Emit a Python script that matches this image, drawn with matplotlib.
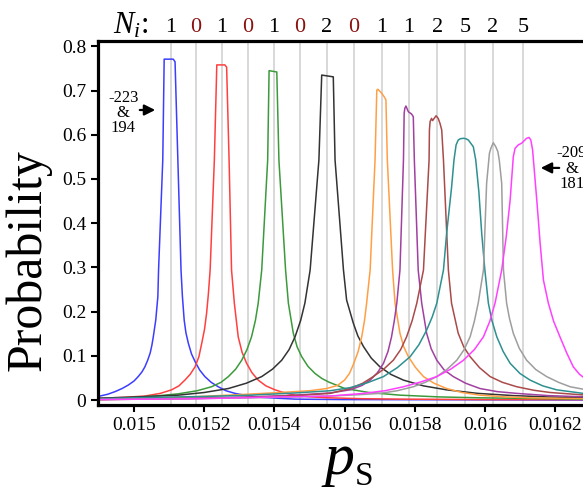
import matplotlib
matplotlib.use('Agg')
import matplotlib.pyplot as plt
from matplotlib.transforms import blended_transform_factory

plt.rcParams['font.family'] = 'Liberation Serif'
plt.rcParams['mathtext.fontset'] = 'custom'
plt.rcParams['mathtext.rm'] = 'Liberation Serif'
plt.rcParams['mathtext.it'] = 'Liberation Serif:italic'

# p_s positions of the reference lines and their counts N_i
grid_ps = [0.015105, 0.015177, 0.015251, 0.015325, 0.015399, 0.015473, 0.015550,
           0.015627, 0.015707, 0.015784, 0.015864, 0.015943, 0.016023, 0.016109]
n_counts = ['1', '0', '1', '0', '1', '0', '2', '0', '1', '1', '2', '5', '2', '5']

# probability curves
blue_ps = [0.014897, 0.014903, 0.014925, 0.014946, 0.014966, 0.014984, 0.015000, 0.015012,
           0.015023, 0.015031, 0.015039, 0.015046, 0.015051, 0.015055, 0.015062, 0.015068,
           0.015070, 0.015082, 0.015086, 0.015112, 0.015117, 0.015125, 0.015134, 0.015138,
           0.015143, 0.015148, 0.015155, 0.015164, 0.015174, 0.015187, 0.015202, 0.015220,
           0.015240, 0.015262, 0.015288, 0.015322, 0.015364, 0.015410, 0.015459, 0.015601,
           0.016290]
blue_prob = [0.008, 0.009, 0.013, 0.019, 0.026, 0.034, 0.043, 0.053, 0.064, 0.075, 0.090,
             0.106, 0.124, 0.143, 0.181, 0.234, 0.294, 0.543, 0.771, 0.771, 0.765, 0.543,
             0.294, 0.234, 0.181, 0.152, 0.128, 0.104, 0.087, 0.068, 0.053, 0.040, 0.030,
             0.021, 0.015, 0.010, 0.006, 0.004, 0.002, 0.001, 0.000]

red_ps = [0.014897, 0.014970, 0.015031, 0.015075, 0.015107, 0.015128, 0.015145, 0.015160,
          0.015174, 0.015185, 0.015193, 0.015201, 0.015207, 0.015212, 0.015217, 0.015229,
          0.015236, 0.015259, 0.015264, 0.015271, 0.015278, 0.015286, 0.015297, 0.015308,
          0.015321, 0.015336, 0.015354, 0.015376, 0.015402, 0.015430, 0.015459, 0.015505,
          0.015554, 0.015650, 0.015758, 0.016000, 0.016290]
red_prob = [0.004, 0.006, 0.009, 0.015, 0.023, 0.032, 0.045, 0.058, 0.075, 0.098, 0.128,
            0.160, 0.197, 0.240, 0.294, 0.543, 0.758, 0.758, 0.753, 0.543, 0.294, 0.219,
            0.143, 0.108, 0.083, 0.062, 0.045, 0.032, 0.023, 0.016, 0.011, 0.007, 0.005,
            0.003, 0.002, 0.001, 0.001]

green_ps = [0.014897, 0.014984, 0.015060, 0.015126, 0.015180, 0.015221, 0.015248, 0.015269,
            0.015290, 0.015307, 0.015322, 0.015335, 0.015346, 0.015354, 0.015364, 0.015381,
            0.015385, 0.015407, 0.015413, 0.015432, 0.015440, 0.015454, 0.015465, 0.015478,
            0.015496, 0.015516, 0.015535, 0.015554, 0.015601, 0.015670, 0.015758, 0.015870,
            0.015986, 0.016290]
green_prob = [0.002, 0.005, 0.009, 0.014, 0.021, 0.030, 0.040, 0.053, 0.070, 0.090, 0.114,
              0.143, 0.180, 0.219, 0.294, 0.543, 0.745, 0.742, 0.543, 0.294, 0.219, 0.151,
              0.120, 0.098, 0.076, 0.060, 0.049, 0.041, 0.026, 0.017, 0.011, 0.007, 0.005,
              0.002]

black_ps = [0.014897, 0.015010, 0.015126, 0.015200, 0.015269, 0.015320, 0.015364, 0.015395,
            0.015421, 0.015442, 0.015459, 0.015475, 0.015487, 0.015502, 0.015527, 0.015535,
            0.015568, 0.015573, 0.015597, 0.015606, 0.015625, 0.015638, 0.015654, 0.015676,
            0.015701, 0.015732, 0.015768, 0.015825, 0.015891, 0.015980, 0.016081, 0.016180,
            0.016290]
black_prob = [0.004, 0.007, 0.011, 0.017, 0.026, 0.038, 0.053, 0.070, 0.090, 0.114, 0.143,
              0.180, 0.219, 0.294, 0.543, 0.735, 0.731, 0.543, 0.294, 0.226, 0.174, 0.145,
              0.121, 0.095, 0.075, 0.058, 0.045, 0.032, 0.023, 0.015, 0.010, 0.007, 0.005]

orange_ps = [0.014897, 0.015050, 0.015188, 0.015320, 0.015416, 0.015500, 0.015549, 0.015580,
             0.015600, 0.015614, 0.015625, 0.015639, 0.015649, 0.015657, 0.015663, 0.015673,
             0.015687, 0.015692, 0.015695, 0.015706, 0.015713, 0.015718, 0.015722, 0.015737,
             0.015744, 0.015758, 0.015769, 0.015782, 0.015802, 0.015825, 0.015855, 0.015891,
             0.015935, 0.015986, 0.016060, 0.016129, 0.016290]
orange_prob = [0.001, 0.004, 0.008, 0.013, 0.017, 0.021, 0.026, 0.033, 0.045, 0.060, 0.080,
               0.110, 0.143, 0.180, 0.219, 0.294, 0.543, 0.701, 0.703, 0.694, 0.686, 0.679,
               0.543, 0.294, 0.219, 0.151, 0.120, 0.098, 0.074, 0.053, 0.038, 0.026, 0.017,
               0.011, 0.007, 0.005, 0.003]

purple_ps = [0.014897, 0.015150, 0.015331, 0.015460, 0.015559, 0.015616, 0.015650, 0.015673,
             0.015694, 0.015711, 0.015724, 0.015734, 0.015742, 0.015749, 0.015758, 0.015768,
             0.015770, 0.015772, 0.015775, 0.015782, 0.015791, 0.015796, 0.015799, 0.015810,
             0.015820, 0.015834, 0.015847, 0.015863, 0.015884, 0.015910, 0.015945, 0.015986,
             0.016035, 0.016091, 0.016180, 0.016290]
purple_prob = [0.001, 0.004, 0.007, 0.011, 0.016, 0.023, 0.033, 0.045, 0.062, 0.083, 0.110,
               0.143, 0.180, 0.219, 0.294, 0.543, 0.649, 0.660, 0.665, 0.652, 0.647, 0.641,
               0.543, 0.294, 0.219, 0.151, 0.116, 0.090, 0.068, 0.053, 0.038, 0.026, 0.019,
               0.015, 0.010, 0.007]

brown_ps = [0.014897, 0.015150, 0.015331, 0.015460, 0.015559, 0.015616, 0.015652, 0.015682,
            0.015712, 0.015739, 0.015760, 0.015777, 0.015793, 0.015806, 0.015825, 0.015841,
            0.015842, 0.015844, 0.015848, 0.015851, 0.015861, 0.015867, 0.015872, 0.015877,
            0.015882, 0.015896, 0.015905, 0.015924, 0.015940, 0.015958, 0.015985, 0.016015,
            0.016050, 0.016091, 0.016140, 0.016186, 0.016290]
brown_prob = [0.001, 0.003, 0.006, 0.010, 0.015, 0.026, 0.038, 0.053, 0.070, 0.090, 0.114,
              0.143, 0.180, 0.219, 0.294, 0.543, 0.611, 0.630, 0.637, 0.632, 0.643, 0.637,
              0.626, 0.611, 0.543, 0.294, 0.219, 0.151, 0.120, 0.098, 0.073, 0.053, 0.040,
              0.030, 0.022, 0.017, 0.011]

teal_ps = [0.014897, 0.015046, 0.015200, 0.015331, 0.015460, 0.015559, 0.015616, 0.015665,
           0.015711, 0.015750, 0.015787, 0.015812, 0.015834, 0.015850, 0.015863, 0.015882,
           0.015891, 0.015905, 0.015912, 0.015918, 0.015924, 0.015930, 0.015939, 0.015946,
           0.015953, 0.015967, 0.015974, 0.015983, 0.015991, 0.016000, 0.016010, 0.016020,
           0.016034, 0.016052, 0.016072, 0.016100, 0.016129, 0.016165, 0.016205, 0.016290]
teal_prob = [0.003, 0.006, 0.008, 0.011, 0.016, 0.021, 0.028, 0.039, 0.053, 0.073, 0.098,
             0.125, 0.158, 0.188, 0.219, 0.294, 0.377, 0.480, 0.543, 0.577, 0.588, 0.591,
             0.592, 0.591, 0.588, 0.573, 0.543, 0.470, 0.377, 0.294, 0.219, 0.180, 0.143,
             0.110, 0.083, 0.060, 0.045, 0.032, 0.023, 0.014]

gray_ps = [0.014897, 0.015150, 0.015331, 0.015460, 0.015559, 0.015640, 0.015701, 0.015750,
           0.015796, 0.015830, 0.015863, 0.015893, 0.015920, 0.015940, 0.015958, 0.015970,
           0.015981, 0.015996, 0.016005, 0.016013, 0.016017, 0.016024, 0.016031, 0.016037,
           0.016041, 0.016048, 0.016053, 0.016062, 0.016070, 0.016081, 0.016098, 0.016119,
           0.016145, 0.016176, 0.016210, 0.016243, 0.016290]
gray_prob = [0.001, 0.003, 0.005, 0.007, 0.009, 0.012, 0.015, 0.021, 0.030, 0.040, 0.053,
             0.070, 0.090, 0.113, 0.143, 0.178, 0.219, 0.294, 0.490, 0.558, 0.569, 0.582,
             0.573, 0.562, 0.543, 0.490, 0.294, 0.219, 0.185, 0.151, 0.117, 0.090, 0.069,
             0.053, 0.040, 0.030, 0.023]

magenta_ps = [0.014897, 0.015188, 0.015416, 0.015559, 0.015654, 0.015715, 0.015768, 0.015818,
              0.015863, 0.015903, 0.015939, 0.015970, 0.015996, 0.016014, 0.016029, 0.016048,
              0.016061, 0.016072, 0.016081, 0.016086, 0.016095, 0.016105, 0.016119, 0.016126,
              0.016131, 0.016136, 0.016148, 0.016158, 0.016167, 0.016181, 0.016196, 0.016214,
              0.016233, 0.016252, 0.016270, 0.016290]
magenta_prob = [0.001, 0.003, 0.007, 0.009, 0.015, 0.021, 0.030, 0.041, 0.053, 0.070, 0.090,
                0.114, 0.143, 0.178, 0.219, 0.294, 0.370, 0.452, 0.550, 0.569, 0.577, 0.581,
                0.592, 0.594, 0.588, 0.566, 0.452, 0.350, 0.271, 0.219, 0.178, 0.143, 0.107,
                0.075, 0.058, 0.046]

curves = [
    (blue_ps, blue_prob, '#3d3dff'),
    (red_ps, red_prob, '#ff4040'),
    (green_ps, green_prob, '#3c9a3c'),
    (black_ps, black_prob, '#333333'),
    (orange_ps, orange_prob, '#ff9f45'),
    (purple_ps, purple_prob, '#a040a0'),
    (brown_ps, brown_prob, '#aa4a4a'),
    (teal_ps, teal_prob, '#2e9090'),
    (gray_ps, gray_prob, '#9e9e9e'),
    (magenta_ps, magenta_prob, '#ff40ff'),
]

fig = plt.figure(figsize=(5.83, 4.92), dpi=100)
ax = fig.add_axes([0.1681, 0.1768, 0.8319, 0.7398])

for g in grid_ps:
    ax.axvline(g, color='#d2d2d2', lw=1.2, zorder=0)

for ps, prob, c in curves:
    ax.plot(ps, prob, color=c, lw=1.1, solid_joinstyle='round')

ax.set_xlim(0.0148974, 0.0162797)
ax.set_ylim(-0.0113, 0.812)

xt = [0.015, 0.0152, 0.0154, 0.0156, 0.0158, 0.016, 0.0162]
ax.set_xticks(xt)
ax.set_xticklabels(['0.015', '0.0152', '0.0154', '0.0156', '0.0158', '0.016', '0.0162'])
yt = [0, 0.1, 0.2, 0.3, 0.4, 0.5, 0.6, 0.7, 0.8]
ax.set_yticks(yt)
ax.set_yticklabels(['0', '0.1', '0.2', '0.3', '0.4', '0.5', '0.6', '0.7', '0.8'])
ax.tick_params(labelsize=14, width=1.5, length=5, direction='out')

for s in ['left', 'bottom', 'top']:
    ax.spines[s].set_linewidth(2.3)
ax.spines['right'].set_visible(False)

ax.set_ylabel('Probability', fontsize=36)
ax.yaxis.set_label_coords((52 - 98) / 485, (405 - 260) / 364)

# x label: italic p with upright subscript S
fig.text(339 / 583, (492 - 474) / 492, 'p', fontsize=43, style='italic',
         ha='center', va='baseline')
fig.text(355 / 583, (492 - 485) / 492, 'S', fontsize=24, ha='left', va='baseline')

# N_i counts above each line
fig.text(113 / 583, (492 - 33) / 492, r'$N_i$:', fontsize=22, ha='left', va='baseline')
trans = blended_transform_factory(ax.transData, fig.transFigure)
for g, n in zip(grid_ps, n_counts):
    ax.text(g, (492 - 32) / 492, n, transform=trans, ha='center', va='baseline',
            fontsize=16, color='#8b1010' if n == '0' else 'black', clip_on=False)

# arrows marking the two outer peaks
ax.annotate('', xy=(0.0150684, 0.656), xytext=(0.0150086, 0.656),
            arrowprops=dict(arrowstyle='-|>', lw=1.6, color='black', mutation_scale=16))
ax.text(0.014969, 0.649, '-223\n&\n194', fontsize=12, ha='center', va='center',
        linespacing=0.95)
ax.annotate('', xy=(0.0161514, 0.525), xytext=(0.0162198, 0.525),
            arrowprops=dict(arrowstyle='-|>', lw=1.6, color='black', mutation_scale=16))
ax.text(0.0162483, 0.523, '-209\n&\n181', fontsize=12, ha='center', va='center',
        linespacing=0.95, clip_on=False)

fig.savefig('out.png', dpi=100)
